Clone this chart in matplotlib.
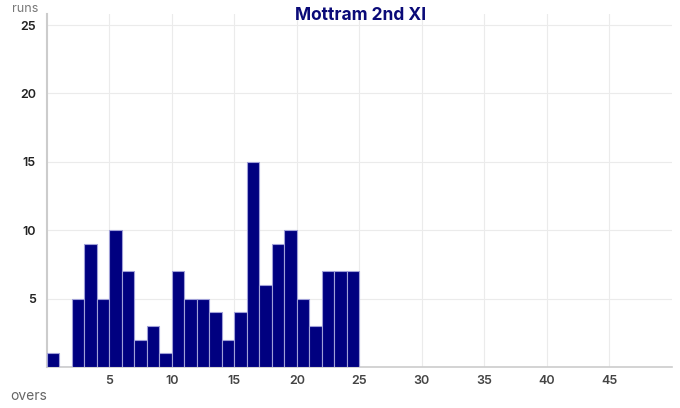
import matplotlib
matplotlib.use("Agg")
import matplotlib.pyplot as plt
import numpy as np

plt.rcParams['font.family'] = ['Inter', 'DejaVu Sans']

overs = list(range(1, 26))
runs = [1, 0, 5, 9, 5, 10, 7, 2, 3, 1, 7, 5, 5, 4, 2, 4, 15, 6, 9, 10, 5, 3, 7, 7, 7]
x_ticks = [5, 10, 15, 20, 25, 30, 35, 40, 45]
y_ticks = [5, 10, 15, 20, 25]
title = "Mottram 2nd XI"

fig = plt.figure(figsize=(6.8, 4.08), dpi=100)
ax = fig.add_axes([0.069, 0.1005, 0.919, 0.865])

x = np.array(overs) - 0.5
ax.bar(x, runs, width=1.0, color='#000080', edgecolor='#a0a0d8', linewidth=0.8, zorder=3)

ax.set_xlim(0, 50)
ax.set_ylim(0, 25.8)
ax.set_xticks(x_ticks)
ax.set_yticks(y_ticks)
ax.tick_params(axis='x', length=0, labelsize=9, labelcolor='#444444', pad=6)
ax.tick_params(axis='y', length=0, labelsize=9, labelcolor='#222222', pad=8)
for lbl in ax.get_yticklabels() + ax.get_xticklabels():
    lbl.set_fontweight('semibold')

ax.grid(True, color='#ebebeb', linewidth=0.8, zorder=0)
for side in ['top', 'right']:
    ax.spines[side].set_visible(False)
ax.spines['left'].set_color('#cccccc')
ax.spines['left'].set_linewidth(1.5)
ax.spines['bottom'].set_color('#cccccc')
ax.spines['bottom'].set_linewidth(1.2)

fig.text(0.530, 0.962, title, ha='center', va='center', fontsize=12.5,
         fontweight='bold', color='#0a0a78')
fig.text(0.018, 0.97, "runs", ha='left', va='baseline', fontsize=9, color='#777777')
fig.text(0.015, 0.029, "overs", ha='left', va='center', fontsize=10, color='#666666')

fig.savefig("out.png", dpi=100)
